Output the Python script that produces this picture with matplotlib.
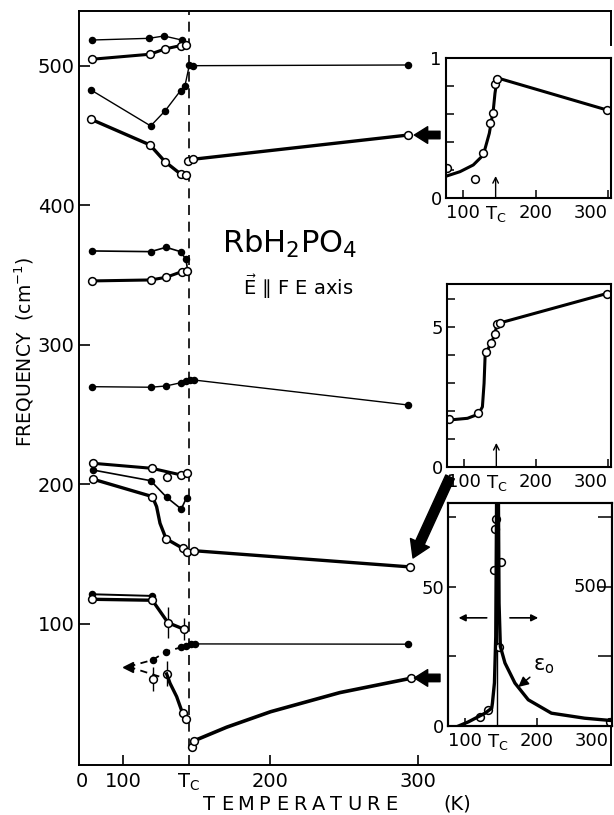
import matplotlib.pyplot as plt

plt.rcParams["font.family"] = "DejaVu Sans"
plt.rcParams["mathtext.default"] = "regular"

TC = 144.5      # transition temperature, main panel (K)
TC_IN = 145.0   # same, as drawn in the insets

# ---- main panel: temperature (K) and frequency (cm-1) ----
A_T = [78.8, 117.6, 127.8, 139.8]
A_F = [518.6, 519.8, 521.5, 518.6]

B_T = [78.8, 118.3, 128.5, 139.0, 143.0]
B_F = [504.8, 508.4, 512.2, 514.6, 515.1]

C_T = [78.3, 118.8, 128.7, 139.0, 142.0, 145.0, 147.3, 293.2]
C_F = [482.8, 457.0, 468.0, 482.3, 485.7, 500.7, 500.2, 500.7]

D_LOW_T = [78.3, 118.3, 128.5, 139.0, 142.4]
D_LOW_F = [461.8, 443.4, 431.4, 422.6, 421.9]
D_HIGH_T = [144.3, 147.3, 293.4]
D_HIGH_F = [432.0, 433.1, 450.5]

E_T = [78.8, 118.8, 129.2, 139.0, 142.7, 143.4]
E_F = [367.4, 366.9, 370.0, 366.9, 361.4, 356.5]
E_MARK = [0, 1, 2, 3, 4]

F_T = [78.8, 118.8, 129.2, 140.0, 143.6]
F_F = [345.9, 346.6, 348.5, 352.6, 353.3]

G_T = [78.8, 118.8, 129.2, 139.5, 142.4, 145.6, 148.0, 293.0]
G_F = [270.1, 269.7, 270.6, 273.0, 274.2, 274.9, 274.9, 257.0]

H_T = [79.5, 119.5, 139.5, 143.6]
H_F = [215.2, 211.6, 206.8, 208.0]
H_LONE_T = [129.6]
H_LONE_F = [205.2]

I_T = [79.5, 118.8, 129.6, 139.5, 143.1]
I_F = [210.4, 202.7, 190.8, 182.4, 190.5]

J_T = [80.0, 119.9, 122.8, 125.1, 129.2, 140.4, 143.6, 148.3, 294.6]
J_F = [203.7, 191.3, 184.1, 172.2, 161.1, 154.3, 151.8, 152.5, 140.9]
J_MARK = [0, 1, 4, 5, 6, 7, 8]

K_T = [79.2, 119.9]
K_F = [121.3, 120.1]

L_T = [79.2, 119.9, 130.5, 141.4]
L_F = [117.7, 117.0, 100.9, 96.2]
L_ERR = [0.0, 0.0, 11.0, 8.0]

M_LOW_T = [103.6, 120.1, 129.2, 139.5, 142.4]
M_LOW_F = [69.4, 74.2, 80.2, 83.3, 84.2]
M_HIGH_T = [142.4, 146.4, 148.6, 293.0]
M_HIGH_F = [84.2, 85.7, 85.7, 85.5]

N_DASH_T = [103.6, 125.0]
N_DASH_F = [69.4, 62.2]
N_PTS_T = [120.1, 129.6]
N_PTS_F = [60.4, 64.2]
N_ERR = [8.6, 9.0]
N_T = [129.6, 131.9, 136.4, 140.4, 142.7]
N_F = [64.2, 57.5, 47.9, 36.0, 31.9]
N_MARK = [3, 4]

O_T = [147.0, 148.3, 170.3, 200.1, 247.0, 295.3]
O_F = [11.6, 16.3, 26.0, 37.1, 50.8, 61.1]
O_MARK = [0, 1, 5]

# ---- inset 1 (top) ----
IN1_CURVE_T = [77.5, 95.9, 114.2, 128.0, 136.3, 141.8, 144.1, 146.5, 149.2, 298.2]
IN1_CURVE_V = [0.157, 0.188, 0.236, 0.307, 0.462, 0.629, 0.748, 0.830, 0.855, 0.629]
IN1_PTS_T = [77.5, 116.6, 127.1, 137.2, 140.9, 143.7, 147.4, 298.2]
IN1_PTS_V = [0.217, 0.136, 0.319, 0.538, 0.605, 0.812, 0.848, 0.629]

# ---- inset 2 (middle) ----
IN2_CURVE_T = [79.7, 105.0, 120.2, 125.7, 128.0, 129.4, 131.3, 138.2, 142.8, 146.0, 150.1, 298.2]
IN2_CURVE_V = [1.68, 1.74, 1.89, 2.15, 2.99, 3.94, 4.12, 4.44, 4.74, 5.11, 5.15, 6.20]
IN2_PTS_T = [79.7, 120.2, 131.3, 138.2, 142.8, 146.0, 150.1, 298.2]
IN2_PTS_V = [1.70, 1.94, 4.12, 4.44, 4.74, 5.11, 5.15, 6.20]

# ---- inset 3 (bottom): open circles on left scale, eps_0 on right scale ----
IN3_PTS_T = [120.7, 131.7, 140.0, 141.4, 142.8, 147.8, 149.7, 301.0]
IN3_PTS_V = [3.2, 5.8, 56.1, 70.8, 74.4, 28.5, 58.9, 1.4]
EPS_T = [91.3, 105.0, 128.0, 137.2, 138.2, 141.0, 142.8, 144.0,
         146.5, 147.4, 149.2, 155.6, 169.4, 187.9, 220.0, 266.0, 301.0]
EPS_V = [0, 15, 46, 64, 82, 155, 320, 830,
         830, 440, 285, 226, 154, 94, 46, 28, 20]


def trace(ax, t, f, filled, lw, marks=None, ls="-"):
    face = "black" if filled else "white"
    ms = 4.3 if filled else 5.6
    ax.plot(t, f, color="black", lw=lw, ls=ls, marker="o", ms=ms, mfc=face,
            mec="black", mew=1.1, markevery=marks, zorder=3)


def big_arrow(ax, tail, head, scale):
    ax.annotate("", xy=head, xytext=tail, annotation_clip=False,
                arrowprops=dict(arrowstyle="simple,head_width=1.0,head_length=0.8,tail_width=0.45",
                                mutation_scale=scale, fc="black", ec="black", shrinkA=0, shrinkB=0))


def style_inset(ax, ylim, yticks, ylabels):
    ax.set_xlim(76.6, 304)
    ax.set_ylim(*ylim)
    ax.set_xticks([100, TC_IN, 200, 300], ["100", "T$_\\mathrm{C}$", "200", "300"])
    ax.xaxis.get_major_ticks()[1].tick1line.set_visible(False)
    ax.get_xticklabels()[-1].set_horizontalalignment("right")
    ax.set_yticks(yticks, ylabels)
    ax.tick_params(direction="in", length=6, width=1.1, labelsize=13, pad=3)
    ax.tick_params(axis="x", pad=4)
    for sp in ax.spines.values():
        sp.set_linewidth(1.5)
    ax.set_zorder(5)
    ax.set_facecolor("white")


fig = plt.figure(figsize=(6.14, 8.15), dpi=100)
W, H = 614, 815


def box(l, t, r, b):
    return [l / W, 1 - b / H, (r - l) / W, (b - t) / H]


ax = fig.add_axes(box(79, 11, 611, 765))
ax.set_xlim(70.2, 430.8)
ax.set_ylim(-1.1, 539.4)

trace(ax, A_T, A_F, True, 1.0)
trace(ax, B_T, B_F, False, 2.2)
trace(ax, C_T, C_F, True, 1.0)
trace(ax, D_LOW_T, D_LOW_F, False, 2.4)
trace(ax, D_HIGH_T, D_HIGH_F, False, 2.4)
trace(ax, E_T, E_F, True, 1.2, marks=E_MARK)
trace(ax, F_T, F_F, False, 2.2)
trace(ax, G_T, G_F, True, 1.0)
trace(ax, H_T, H_F, False, 2.2)
trace(ax, H_LONE_T, H_LONE_F, False, 0)
trace(ax, I_T, I_F, True, 1.2)
trace(ax, J_T, J_F, False, 2.4, marks=J_MARK)
trace(ax, K_T, K_F, True, 1.4)
ax.errorbar(L_T, L_F, yerr=L_ERR, fmt="none", ecolor="black", elinewidth=1.0, capsize=0, zorder=2)
trace(ax, L_T, L_F, False, 2.4)
trace(ax, M_LOW_T, M_LOW_F, True, 1.3, marks=[1, 2, 3, 4], ls=(0, (4, 3)))
ax.plot(M_LOW_T[0], M_LOW_F[0], marker="<", ms=7, color="black", zorder=3)
trace(ax, M_HIGH_T, M_HIGH_F, True, 1.0, marks=[1, 2, 3])
ax.plot(N_DASH_T, N_DASH_F, color="black", lw=1.3, ls=(0, (4, 3)), zorder=3)
ax.errorbar(N_PTS_T, N_PTS_F, yerr=N_ERR, fmt="none", ecolor="black", elinewidth=1.0, capsize=0, zorder=2)
trace(ax, N_PTS_T, N_PTS_F, False, 0)
trace(ax, N_T, N_F, False, 2.4, marks=N_MARK)
trace(ax, O_T, O_F, False, 2.6, marks=O_MARK)

ax.axvline(TC, color="black", lw=1.2, ls=(0, (6, 4)), zorder=1)

big_arrow(ax, (314.9, 450.5), (297.5, 450.5), 12)
big_arrow(ax, (321.7, 205.4), (296.6, 147.3), 15)
big_arrow(ax, (314.9, 61.3), (297.5, 61.3), 12)

ax.set_xticks([72.2, 100, TC, 200, 300], ["0", "100", "T$_\\mathrm{C}$", "200", "300"])
for i in (0, 2):
    ax.xaxis.get_major_ticks()[i].tick1line.set_visible(False)
ax.set_yticks([100, 200, 300, 400, 500])
ax.tick_params(direction="in", width=1.2, labelsize=14)
ax.tick_params(axis="x", length=7, pad=5)
ax.tick_params(axis="y", length=8, pad=3)
for sp in ax.spines.values():
    sp.set_linewidth(1.4)
ax.spines["right"].set_visible(False)
for y0, y1 in ((0.955, 1.0), (0.0, 0.0517)):
    ax.plot([1, 1], [y0, y1], transform=ax.transAxes, color="black", lw=1.4, clip_on=False)

# titles and labels
fig.text(222 / W, 1 - 253 / H, "RbH$_2$PO$_4$", fontsize=22, va="baseline")
fig.text(243 / W, 1 - 295 / H, "$\\vec{E}$ \u2225 F E axis", fontsize=14, va="baseline")
fig.text(24 / W, 1 - 352 / H, "FREQUENCY  (cm$^{-1}$)", rotation=90, fontsize=13.5,
         ha="center", va="center")
for i, ch in enumerate("TEMPERATURE"):
    fig.text((209 + 18.2 * i) / W, 1 - 810 / H, ch, fontsize=14, ha="center", va="baseline")
fig.text(443 / W, 1 - 810 / H, "(K)", fontsize=14, va="baseline")

# inset 1
ax1 = fig.add_axes(box(446, 58, 611, 198))
ax1.plot(IN1_CURVE_T, IN1_CURVE_V, color="black", lw=2.2)
ax1.plot(IN1_PTS_T, IN1_PTS_V, ls="none", marker="o", ms=5.6, mfc="white", mec="black", mew=1.1)
ax1.annotate("", xy=(TC_IN, 0.157), xytext=(TC_IN, 0.0),
             arrowprops=dict(arrowstyle="->", lw=1.0, shrinkA=0, shrinkB=0))
style_inset(ax1, (0, 1), [0, 0.2, 0.4, 0.6, 0.8, 1.0], ["0", "", "", "", "", "1"])

# inset 2
ax2 = fig.add_axes(box(447, 284, 611, 467))
ax2.plot(IN2_CURVE_T, IN2_CURVE_V, color="black", lw=2.2)
ax2.plot(IN2_PTS_T, IN2_PTS_V, ls="none", marker="o", ms=5.6, mfc="white", mec="black", mew=1.1)
ax2.annotate("", xy=(TC_IN, 0.86), xytext=(TC_IN, 0.0),
             arrowprops=dict(arrowstyle="->", lw=1.0, shrinkA=0, shrinkB=0))
style_inset(ax2, (0, 6.54), [0, 1, 2, 3, 4, 5, 6], ["0", "", "", "", "", "5", ""])

# inset 3
ax3 = fig.add_axes(box(448, 503, 612, 726))
style_inset(ax3, (0, 80), [0, 25, 50, 75], ["0", "", "50", ""])
ax3.axvline(TC_IN, color="black", lw=1.0)
ax3.plot(IN3_PTS_T, IN3_PTS_V, ls="none", marker="o", ms=5.6, mfc="white", mec="black", mew=1.1, zorder=4)
ax3r = ax3.twinx()
ax3r.set_ylim(0, 800)
ax3r.plot(EPS_T, EPS_V, color="black", lw=2.4, zorder=3)
ax3r.set_yticks([250, 500, 750], ["", "", ""])
ax3r.tick_params(direction="in", length=10, width=1.1)
ax3r.text(0.975, 500, "500", transform=ax3r.get_yaxis_transform(), ha="right", va="center", fontsize=13)
ax3r.set_zorder(6)
ax3r.patch.set_visible(False)
for sp in ax3r.spines.values():
    sp.set_linewidth(1.5)
ax3.annotate("", xy=(91.3, 38.8), xytext=(130.3, 38.8),
             arrowprops=dict(arrowstyle="-|>", lw=1.2, fc="black", shrinkA=0, shrinkB=0))
ax3.annotate("", xy=(201.7, 38.8), xytext=(162.5, 38.8),
             arrowprops=dict(arrowstyle="-|>", lw=1.2, fc="black", shrinkA=0, shrinkB=0))
ax3.annotate("$\\varepsilon_o$", xy=(174.0, 14.0), xytext=(194.0, 18.0), fontsize=15,
             va="bottom", ha="left",
             arrowprops=dict(arrowstyle="-|>", lw=1.1, fc="black", shrinkA=0, shrinkB=0))

fig.savefig("out.png", dpi=100)
